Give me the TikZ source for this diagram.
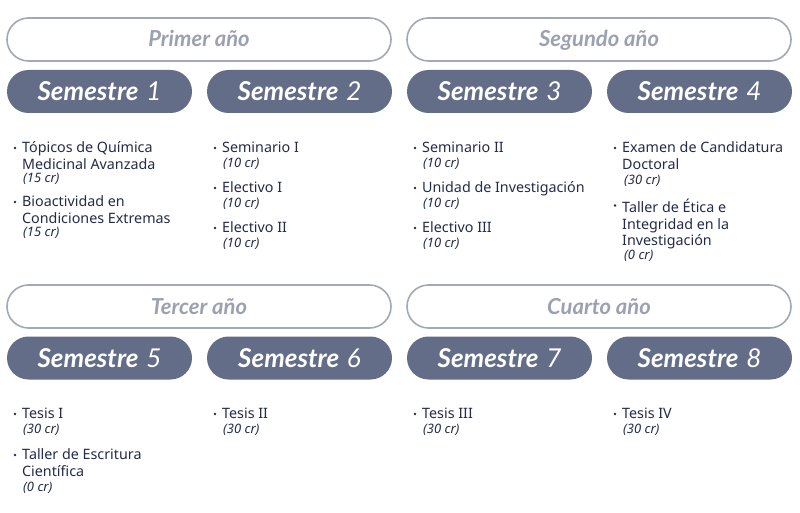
\documentclass[tikz,border=0pt]{standalone}
\usepackage{fontspec}
\setmainfont{Noto Sans}
\newfontfamily\titlefont{Lato}
\definecolor{pill}{HTML}{646D88}
\definecolor{yline}{HTML}{A3A8B8}
\definecolor{ytext}{HTML}{9CA1B2}
\definecolor{itext}{HTML}{232B4A}
\tikzset{
  yearbox/.style={draw=yline, line width=1.6pt, rounded corners=21.5pt, minimum width=384pt, minimum height=43pt, inner sep=0pt,
    text height=15pt, text depth=0pt,
    font=\titlefont\fontsize{22}{24}\selectfont\bfseries\itshape, text=ytext},
  sembox/.style={fill=pill, rounded corners=21.5pt, minimum width=185pt, minimum height=43pt, inner sep=0pt,
    text height=19pt, text depth=0pt,
    font=\titlefont\fontsize{26}{28}\selectfont\bfseries\itshape, text=white},
  item/.style={anchor=north west, inner sep=0pt, align=left, text=itext, font=\fontsize{14.3}{16.5}\selectfont},
  cred/.style={anchor=north west, inner sep=0pt, text=itext, font=\fontsize{13}{14}\selectfont\itshape},
  bul/.style={fill=itext, circle, inner sep=0pt, minimum size=2.6pt}
}
\newcommand{\yr}[4]{\node[yearbox] (#1) at (#2,#3) {#4};}
\newcommand{\sm}[4]{\node[sembox] (#1) at (#2,#3) {Semestre\hspace{0.3em}{\mdseries #4}};}
\begin{document}
\begin{tikzpicture}[x=1pt,y=-1pt]
\useasboundingbox (0,0) rectangle (800,513);
\fill[white] (0,0) rectangle (800,513);
% years
\yr{y1}{199}{39.5}{Primer año}
\yr{y2}{599}{39.5}{Segundo año}
\yr{y3}{199}{306.5}{Tercer año}
\yr{y4}{599}{306.5}{Cuarto año}
% semesters
\sm{s1}{99.5}{91.5}{1}
\sm{s2}{299.5}{91.5}{2}
\sm{s3}{499.5}{91.5}{3}
\sm{s4}{699.5}{91.5}{4}
\sm{s5}{99.5}{358}{5}
\sm{s6}{299.5}{358}{6}
\sm{s7}{499.5}{358}{7}
\sm{s8}{699.5}{358}{8}
% column 1
\node[bul] (b1a) at (15,148) {};
\node[item] (i1a) at (22,141.5) {Tópicos de Química\\Medicinal Avanzada};
\node[cred] (c1a) at (23,173.5) {(15 cr)};
\node[bul] (b1b) at (15,202) {};
\node[item] (i1b) at (22,195.5) {Bioactividad en\\Condiciones Extremas};
\node[cred] (c1b) at (23,227.5) {(15 cr)};
% column 2
\node[bul] (b2a) at (215,148) {};
\node[item] (i2a) at (222,141.5) {Seminario I};
\node[cred] (c2a) at (223,157.5) {(10 cr)};
\node[bul] (b2b) at (215,188) {};
\node[item] (i2b) at (222,181.5) {Electivo I};
\node[cred] (c2b) at (223,197.5) {(10 cr)};
\node[bul] (b2c) at (215,228) {};
\node[item] (i2c) at (222,221.5) {Electivo II};
\node[cred] (c2c) at (223,237.5) {(10 cr)};
% column 3
\node[bul] (b3a) at (415,148) {};
\node[item] (i3a) at (422,141.5) {Seminario II};
\node[cred] (c3a) at (423,158) {(10 cr)};
\node[bul] (b3b) at (415,188) {};
\node[item] (i3b) at (422,181.5) {Unidad de Investigación};
\node[cred] (c3b) at (423,198) {(10 cr)};
\node[bul] (b3c) at (415,228) {};
\node[item] (i3c) at (422,221.5) {Electivo III};
\node[cred] (c3c) at (423,238) {(10 cr)};
% column 4
\node[bul] (b4a) at (615,148) {};
\node[item] (i4a) at (622,141.5) {Examen de Candidatura\\Doctoral};
\node[cred] (c4a) at (624,175) {(30 cr)};
\node[bul] (b4b) at (615,205.5) {};
\node[item] (i4b) at (622,199) {Taller de Ética e\\Integridad en la\\Investigación};
\node[cred] (c4b) at (624,250) {(0 cr)};
% bottom
\node[bul] (b5a) at (15,414) {};
\node[item] (i5a) at (22,407.5) {Tesis I};
\node[cred] (c5a) at (23,424) {(30 cr)};
\node[bul] (b5b) at (15,455) {};
\node[item] (i5b) at (22,448.5) {Taller de Escritura\\Científica};
\node[cred] (c5b) at (23,482) {(0 cr)};
\node[bul] (b6a) at (215,414) {};
\node[item] (i6a) at (222,407.5) {Tesis II};
\node[cred] (c6a) at (223,424) {(30 cr)};
\node[bul] (b7a) at (415,414) {};
\node[item] (i7a) at (422,407.5) {Tesis III};
\node[cred] (c7a) at (423,424) {(30 cr)};
\node[bul] (b8a) at (615,414) {};
\node[item] (i8a) at (622,407.5) {Tesis IV};
\node[cred] (c8a) at (623,424) {(30 cr)};
\end{tikzpicture}
\end{document}
